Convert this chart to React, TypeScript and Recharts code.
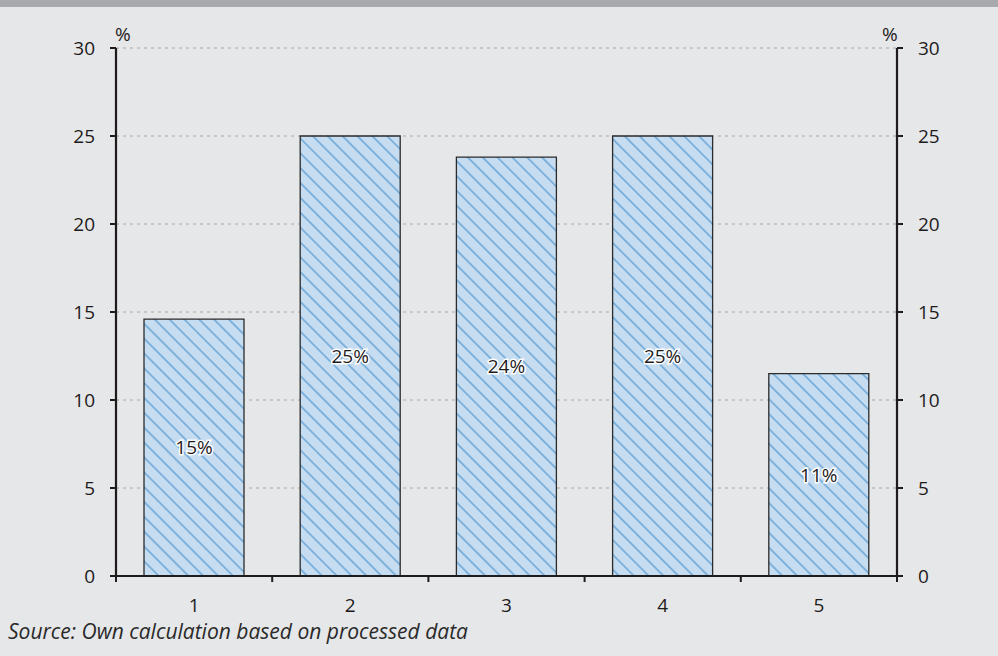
import React from "react";
import {
  BarChart,
  Bar,
  Line,
  XAxis,
  YAxis,
  CartesianGrid,
  LabelList,
} from "recharts";

const categories = ["1", "2", "3", "4", "5"];
const shares = [14.6, 25.0, 23.8, 25.0, 11.5];
const shareLabels = ["15%", "25%", "24%", "25%", "11%"];
const yTicks = [0, 5, 10, 15, 20, 25, 30];
// boundary ticks at whole numbers, category labels at the half steps
const xTicks = [0, 0.5, 1, 1.5, 2, 2.5, 3, 3.5, 4, 4.5, 5];

const data = categories.map((c, i) => ({
  name: c,
  pos: i + 0.5,
  value: shares[i],
  label: shareLabels[i],
}));

const FONT = "'Open Sans', sans-serif";
const INK = "#1e1b1c";

function XTick(props: any) {
  const { x, y, payload } = props;
  const v = payload.value;
  if (Number.isInteger(v)) {
    return <line x1={x} x2={x} y1={y - 1} y2={y + 6} stroke={INK} strokeWidth={2} />;
  }
  return (
    <text x={x} y={y + 23} dy="0.71em" textAnchor="middle" fill={INK} fontSize={19} fontFamily={FONT}>
      {categories[Math.floor(v)]}
    </text>
  );
}

export default function App() {
  const tickStyle = { fill: INK, fontSize: 19, fontFamily: FONT };
  return (
    <div
      style={{
        position: "absolute",
        left: 0,
        top: 0,
        width: 998,
        height: 656,
        background: "#e6e7e8",
        fontFamily: FONT,
        overflow: "hidden",
      }}
    >
      <div style={{ height: 7, background: "#a7a9ac" }} />
      <div style={{ position: "absolute", left: 115, top: 21, fontSize: 19, color: INK }}>%</div>
      <div style={{ position: "absolute", left: 882, top: 21, fontSize: 19, color: INK }}>%</div>
      <div
        style={{
          position: "absolute",
          left: 8,
          top: 617,
          fontSize: 21,
          fontStyle: "italic",
          color: "#2a2a2a",
          whiteSpace: "nowrap",
        }}
      >
        Source: Own calculation based on processed data
      </div>
      <div style={{ position: "absolute", left: 0, top: 0 }}>
        <BarChart
          width={998}
          height={656}
          data={data}
          margin={{ top: 48, right: 0, bottom: 0, left: 0 }}
          barSize={100}
        >
          <defs>
            <pattern
              id="hatch"
              patternUnits="userSpaceOnUse"
              width="10.5"
              height="10.5"
              patternTransform="rotate(45)"
            >
              <rect width="10.5" height="10.5" fill="#c6dcf0" />
              <line x1="0" y1="1" x2="10.5" y2="1" stroke="#6fa8d8" strokeWidth={1.6} />
            </pattern>
          </defs>
          <CartesianGrid
            vertical={false}
            stroke="#a8a8a8"
            strokeDasharray="3 4"
            yAxisId="left"
          />
          <XAxis
            dataKey="pos"
            type="number"
            domain={[0, 5]}
            ticks={xTicks}
            interval={0}
            height={80}
            tickSize={0}
            tickMargin={0}
            tickLine={false}
            axisLine={{ stroke: INK, strokeWidth: 2.2 }}
            tick={<XTick />}
          />
          <YAxis
            yAxisId="left"
            orientation="left"
            width={116}
            domain={[0, 30]}
            ticks={yTicks}
            tickSize={6}
            tickMargin={15}
            axisLine={{ stroke: INK, strokeWidth: 2.2 }}
            tickLine={{ stroke: INK, strokeWidth: 2 }}
            tick={tickStyle}
          />
          <YAxis
            yAxisId="right"
            orientation="right"
            width={101}
            domain={[0, 30]}
            ticks={yTicks}
            tickSize={6}
            tickMargin={15}
            axisLine={{ stroke: INK, strokeWidth: 2.2 }}
            tickLine={{ stroke: INK, strokeWidth: 2 }}
            tick={tickStyle}
          />
          <Bar
            dataKey="value"
            yAxisId="left"
            fill="url(#hatch)"
            stroke="#2b2b2b"
            strokeWidth={1.3}
            isAnimationActive={false}
          >
            <LabelList
              dataKey="label"
              position="center"
              fill={INK}
              stroke="#ffffff"
              strokeWidth={3}
              paintOrder="stroke"
              fontSize={19}
              fontFamily={FONT}
            />
          </Bar>
          <Line
            dataKey="value"
            yAxisId="right"
            stroke="none"
            dot={false}
            activeDot={false}
            legendType="none"
            isAnimationActive={false}
          />
        </BarChart>
      </div>
    </div>
  );
}
